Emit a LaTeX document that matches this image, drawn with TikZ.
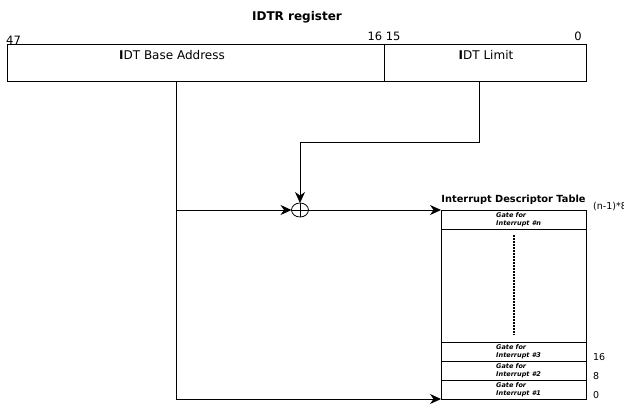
\documentclass[tikz,border=0pt]{standalone}
\usepackage{fontspec}
\setmainfont{DejaVu Sans}
\usetikzlibrary{positioning,arrows.meta,shapes.geometric}
\tikzset{basic/.style={draw,line width=0.8pt,inner sep=0pt,outer sep=0pt}}
\tikzset{field/.style={basic,rectangle,minimum height=37pt,anchor=north west}}
\tikzset{gate/.style={basic,rectangle,minimum width=145pt,minimum height=19pt,anchor=north west}}
\tikzset{gatetext/.style={font=\fontsize{6.5}{7.5}\selectfont\bfseries\itshape,align=left,anchor=west,inner sep=0pt}}
\tikzset{bits/.style={font=\fontsize{11.5}{13}\selectfont,inner sep=0pt}}
\tikzset{offset/.style={font=\fontsize{9.5}{11}\selectfont,inner sep=0pt,anchor=west}}
\tikzset{wire/.style={line width=0.8pt}}
\tikzset{arr/.style={wire,-{Stealth[length=11pt,width=10pt]}}}

\begin{document}
\begin{tikzpicture}[x=1pt,y=-1pt]
    \useasboundingbox (0,0) rectangle (624,405);
    % IDTR register
    \node[field,minimum width=377pt] (base) at (7,44) {};
    \node[field,minimum width=202pt] (limit) at (base.north east) {};
    \node[font=\fontsize{12}{14}\selectfont\bfseries] (title) at (297,17) {IDTR register};
    \node[bits,anchor=south west] (b47) at (6,45) {47};
    \node[bits,anchor=south] (b16) at (base.north east) [yshift=3pt] {16 15};
    \node[bits,anchor=south east] (b0) at (582,41) {0};
    \node[font=\fontsize{12}{14}\selectfont] (baselbl) at (172,55) {\textbf{I}DT Base Address};
    \node[font=\fontsize{12}{14}\selectfont] (limitlbl) at (486,55) {\textbf{I}DT Limit};
    % descriptor table
    \node[gate] (rown) at (441,210) {};
    \node[gate] (row3) at (441,342) {};
    \node[gate,below=0pt of row3] (row2) {};
    \node[gate,below=0pt of row2] (row1) {};
    \draw[wire] (rown.north west) rectangle (row1.south east);
    \node[font=\fontsize{9.8}{11}\selectfont\bfseries,inner sep=0pt,above=5pt of rown.north] (tbltitle) {Interrupt Descriptor Table};
    \node[gatetext] (tn) at ([xshift=55pt]rown.west) {Gate for\\Interrupt \#n};
    \node[gatetext] (t3) at ([xshift=55pt]row3.west) {Gate for\\Interrupt \#3};
    \node[gatetext] (t2) at ([xshift=55pt]row2.west) {Gate for\\Interrupt \#2};
    \node[gatetext] (t1) at ([xshift=55pt]row1.west) {Gate for\\Interrupt \#1};
    \draw[line width=2pt,dash pattern=on 1.5pt off 1.5pt] ([yshift=-6pt]rown.south) -- ([yshift=7pt]row3.north);
    \node[offset] (on) at ([xshift=7pt,yshift=3pt]rown.north east) {(n-1)*8};
    \node[offset] (o16) at ([xshift=7pt,yshift=4pt]row3.south east) {16};
    \node[offset] (o8) at ([xshift=7pt,yshift=4pt]row2.south east) {8};
    \node[offset] (o0) at ([xshift=7pt,yshift=4pt]row1.south east) {0};
    % adder
    \node[basic,ellipse,minimum width=17pt,minimum height=14pt] (add) at (300,210) {};
    \draw[wire] (add.north) -- (add.south) (add.west) -- (add.east);
    % connections
    \coordinate (bdrop) at (176,81);
    \coordinate (ldrop) at (479,81);
    \draw[arr] (bdrop) |- (row1.south west);
    \draw[arr] (bdrop |- add.west) -- (add.west);
    \draw[arr] (ldrop) -- ++(0,61) -| (add.north);
    \draw[arr] (add.east) -- (rown.north west);
\end{tikzpicture}
\end{document}
